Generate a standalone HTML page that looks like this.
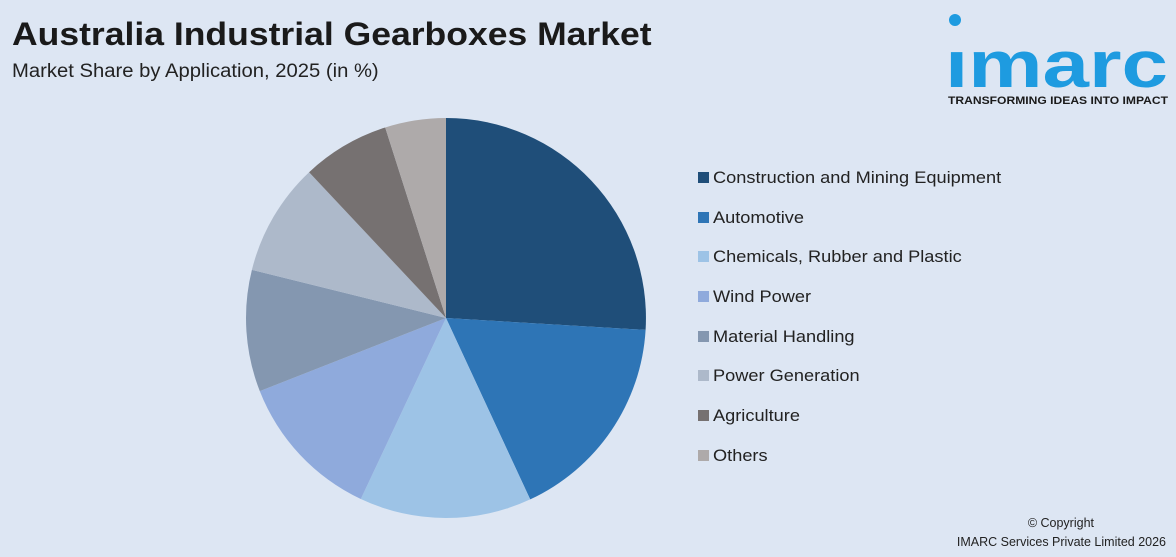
<!DOCTYPE html>
<html><head><meta charset="utf-8"><style>
body{margin:0;width:1176px;height:557px;background:#dde6f3;font-family:"Liberation Sans",Arial,sans-serif;position:relative;overflow:hidden}
.t{position:absolute;left:12px;top:16px;font-size:32px;font-weight:bold;color:#1a1a1a;transform:scaleX(1.11);transform-origin:left top;white-space:nowrap}
.s{position:absolute;left:12px;top:61px;font-size:19px;color:#222;transform:scaleX(1.065);transform-origin:left top;white-space:nowrap}
.lg{position:absolute;left:698px;font-size:17px;color:#222;white-space:nowrap}
.lg span{display:inline-block;transform:scaleX(1.07);transform-origin:left center}
.lg i{display:inline-block;width:11px;height:11px;margin-right:4px;vertical-align:0}
.c{position:absolute;right:10px;font-size:12.5px;color:#222;text-align:right}
</style></head><body>
<div class="t">Australia Industrial Gearboxes Market</div>
<div class="s">Market Share by Application, 2025 (in %)</div>
<svg style="position:absolute;left:0;top:0" width="1176" height="557">
<g transform="translate(446,318)">
<path d="M0,0 L0,-200 A200,200 0 0 1 199.6,11.9 Z" fill="#1f4e79"/>
<path d="M0,0 L199.6,11.9 A200,200 0 0 1 84.2,181.4 Z" fill="#2e75b6"/>
<path d="M0,0 L84.2,181.4 A200,200 0 0 1 -85.2,181 Z" fill="#9dc3e6"/>
<path d="M0,0 L-85.2,181 A200,200 0 0 1 -186.2,73.1 Z" fill="#8faadc"/>
<path d="M0,0 L-186.2,73.1 A200,200 0 0 1 -194.1,-48.1 Z" fill="#8497b0"/>
<path d="M0,0 L-194.1,-48.1 A200,200 0 0 1 -136.9,-145.8 Z" fill="#adb9ca"/>
<path d="M0,0 L-136.9,-145.8 A200,200 0 0 1 -60.8,-190.5 Z" fill="#767171"/>
<path d="M0,0 L-60.8,-190.5 A200,200 0 0 1 0,-200 Z" fill="#aeaaaa"/>
</g>
<circle cx="955" cy="20" r="6" fill="#1e9be0"/>
<text x="945" y="87" font-size="66" font-weight="bold" fill="#1e9be0" font-family="Liberation Sans,sans-serif" textLength="223" lengthAdjust="spacingAndGlyphs">ımarc</text>
<text x="948" y="104" font-size="11" font-weight="bold" fill="#1a1a1a" font-family="Liberation Sans,sans-serif" textLength="220" lengthAdjust="spacingAndGlyphs">TRANSFORMING IDEAS INTO IMPACT</text>
</svg>
<div class="lg" style="top:168px"><i style="background:#1f4e79"></i><span>Construction and Mining Equipment</span></div>
<div class="lg" style="top:208px"><i style="background:#2e75b6"></i><span>Automotive</span></div>
<div class="lg" style="top:247px"><i style="background:#9dc3e6"></i><span>Chemicals, Rubber and Plastic</span></div>
<div class="lg" style="top:287px"><i style="background:#8faadc"></i><span>Wind Power</span></div>
<div class="lg" style="top:327px"><i style="background:#8497b0"></i><span>Material Handling</span></div>
<div class="lg" style="top:366px"><i style="background:#adb9ca"></i><span>Power Generation</span></div>
<div class="lg" style="top:406px"><i style="background:#767171"></i><span>Agriculture</span></div>
<div class="lg" style="top:446px"><i style="background:#aeaaaa"></i><span>Others</span></div>
<div class="c" style="top:516px;right:82px">© Copyright</div>
<div class="c" style="top:535px">IMARC Services Private Limited 2026</div>
</body></html>
